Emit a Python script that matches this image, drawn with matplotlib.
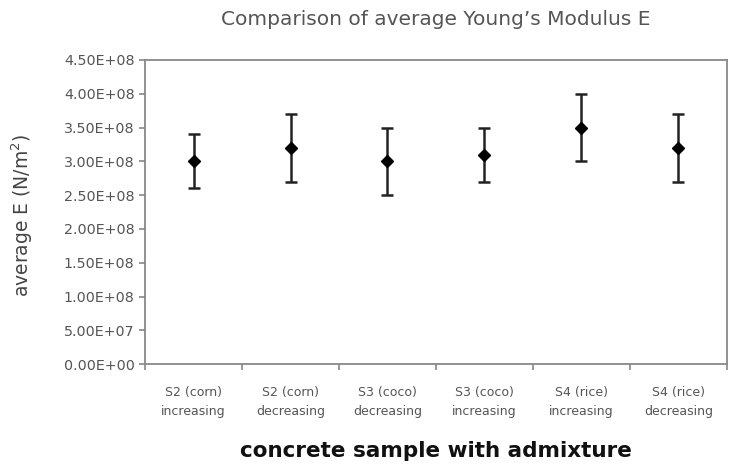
import matplotlib
matplotlib.use("Agg")
import matplotlib.pyplot as plt
import numpy as np

categories = [
    "S2 (corn)\nincreasing",
    "S2 (corn)\ndecreasing",
    "S3 (coco)\ndecreasing",
    "S3 (coco)\nincreasing",
    "S4 (rice)\nincreasing",
    "S4 (rice)\ndecreasing",
]
avg_E = [3.0e8, 3.2e8, 3.0e8, 3.1e8, 3.5e8, 3.2e8]
err_E = [0.4e8, 0.5e8, 0.5e8, 0.4e8, 0.5e8, 0.5e8]
yticks = np.arange(0, 4.5e8 + 1, 0.5e8)

gray = "#555555"
axis_gray = "#888888"

fig = plt.figure(figsize=(7.29, 4.65), dpi=100)
ax = fig.add_axes([0.199, 0.217, 0.798, 0.654])

x = np.arange(len(categories))
ax.errorbar(x, avg_E, yerr=err_E, fmt="D", color="black", markersize=6,
            ecolor="#222222", elinewidth=1.8, capsize=4.5, capthick=1.8)

ax.set_xlim(-0.5, len(categories) - 0.5)
ax.set_ylim(0, 4.5e8)
ax.set_yticks(yticks)
ax.set_yticklabels([f"{v:.2E}" for v in yticks], color=gray, fontsize=10.3)

ax.set_xticks(np.arange(-0.5, len(categories), 1))
ax.set_xticklabels([])
ax.set_xticks(x, minor=True)
ax.set_xticklabels(categories, minor=True, color=gray, fontsize=9, linespacing=1.6)
ax.tick_params(axis="x", which="minor", length=0, pad=16)
ax.tick_params(axis="both", which="major", length=4, color=axis_gray, width=1.2)

for s in ax.spines.values():
    s.set_color(axis_gray)
    s.set_linewidth(1.3)

ax.set_ylabel("average E (N/m$^{2}$)", fontsize=13.5, color="#444444")
ax.yaxis.set_label_coords(-0.19, 0.49)
ax.set_xlabel("concrete sample with admixture", fontsize=15.5, fontweight="bold",
              color="#111111", labelpad=16)
ax.set_title("Comparison of average Young\u2019s Modulus E", fontsize=14.5, color=gray, pad=25)

plt.savefig("out.png", dpi=100)
